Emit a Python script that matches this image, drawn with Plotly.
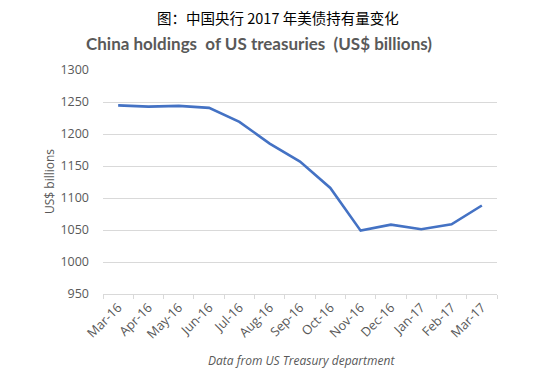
import plotly.graph_objects as go

months = ["Mar-16", "Apr-16", "May-16", "Jun-16", "Jul-16", "Aug-16", "Sep-16",
          "Oct-16", "Nov-16", "Dec-16", "Jan-17", "Feb-17", "Mar-17"]
holdings = [1244.8, 1242.8, 1244.0, 1240.8, 1218.9, 1185.1, 1157.0,
            1115.7, 1049.0, 1058.4, 1051.1, 1058.8, 1088.3]
y_ticks = [950, 1000, 1050, 1100, 1150, 1200, 1250, 1300]

grey = "#595959"
# page has an 8px body margin; plot area in page coords spans x 103..497, y 70..294
PX0, PW, PY1, PH = 103, 394, 294, 224


def px(x):
    return (x - PX0) / PW


def py(y):
    return (PY1 - y) / PH


fig = go.Figure()
fig.add_trace(go.Scatter(x=months, y=holdings, mode="lines",
                         line=dict(color="#4472C4", width=2.6), showlegend=False))

fig.update_layout(
    width=531, height=380,
    margin=dict(l=95, r=42, t=62, b=94),
    paper_bgcolor="white", plot_bgcolor="white",
    font=dict(family="Open Sans, sans-serif", color=grey, size=12),
)
fig.add_annotation(text="图：中国央行 2017 年美债持有量变化",
                   xref="paper", yref="paper", x=px(278), y=py(18),
                   xanchor="center", yanchor="middle", showarrow=False,
                   font=dict(family="Noto Sans CJK SC", size=14.5, color="black"))
fig.add_annotation(text="<b>China holdings  of US treasuries  (US$ billions)</b>",
                   xref="paper", yref="paper", x=px(259), y=py(43),
                   xanchor="center", yanchor="middle", showarrow=False,
                   font=dict(family="Lato, sans-serif", size=17, color=grey))
fig.add_annotation(text="US$ billions", textangle=-90,
                   xref="paper", yref="paper", x=px(49), y=py(182),
                   xanchor="center", yanchor="middle", showarrow=False,
                   font=dict(family="Open Sans, sans-serif", size=12, color=grey))
fig.add_annotation(text="<i>Data from US Treasury department</i>",
                   xref="paper", yref="paper", x=px(301), y=py(360),
                   xanchor="center", yanchor="middle", showarrow=False,
                   font=dict(family="Open Sans, sans-serif", size=12, color=grey))

fig.update_xaxes(type="category", range=[-0.5, len(months) - 0.5],
                 tickangle=-45, tickfont=dict(size=12.8, color=grey),
                 showgrid=False, showline=True, linecolor="#D9D9D9", linewidth=1,
                 ticks="outside", tickson="boundaries", ticklen=4, tickcolor="#D9D9D9",
                 zeroline=False)
fig.update_yaxes(range=[950, 1300], tickvals=y_ticks, ticktext=[str(v) for v in y_ticks],
                 showgrid=True, gridcolor="#D9D9D9", gridwidth=1,
                 showline=False, zeroline=False, ticks="", tickfont=dict(size=12.5, color=grey),
                 ticklabelstandoff=13)

fig.write_html("out.html")
